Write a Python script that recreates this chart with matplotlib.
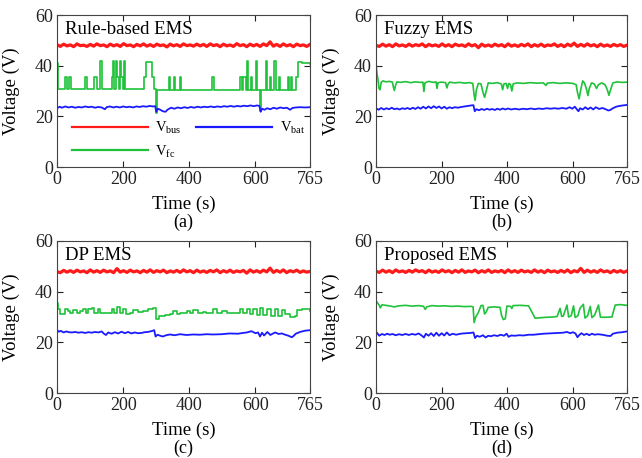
import numpy as np
import matplotlib
matplotlib.use('Agg')
import matplotlib.pyplot as plt

plt.rcParams['font.family'] = 'Liberation Serif'
plt.rcParams['mathtext.fontset'] = 'custom'
plt.rcParams['mathtext.rm'] = 'Liberation Serif'

# -------------------------------
# Data
# -------------------------------

titles = ['Rule-based EMS', 'Fuzzy EMS', 'DP EMS', 'Proposed EMS']
tags = ['(a)', '(b)', '(c)', '(d)']
xticks = [0, 200, 400, 600, 765]
yticks = [0, 20, 40, 60]

# bus voltage, evenly sampled over 0..765 s
bus_a = [48.3, 47.6, 48.5, 47.8, 48.2, 47.5, 48.6, 47.9, 48.1, 47.6, 48.4, 47.7, 48.6, 47.9,
         48.2, 47.5, 48.5, 47.8, 48.3, 47.6, 48.7, 47.9, 48.2, 47.5, 48.4, 47.8, 48.6, 47.7,
         48.3, 47.6, 48.5, 47.9, 48.2, 47.4, 48.5, 47.8, 48.3, 47.6, 48.6, 47.9, 48.2, 47.7,
         48.5, 47.8, 48.4, 47.6, 48.6, 47.9, 48.3, 47.5, 48.5, 47.8, 48.2, 47.6, 48.7, 47.9,
         48.3, 47.5, 48.5, 47.8, 48.4, 47.6, 48.6, 47.9, 49.4, 47.7, 48.4, 47.6, 48.6, 47.8,
         48.3, 47.5, 48.5, 47.9, 48.2, 47.6, 48.4]
bus_b = [48.0, 47.6, 48.5, 47.7, 48.3, 47.5, 48.6, 47.8, 48.2, 47.6, 48.5, 47.7, 48.3, 47.9,
         48.6, 47.5, 48.4, 47.8, 48.2, 47.6, 48.6, 47.7, 48.3, 47.5, 48.5, 47.9, 48.2, 47.6,
         48.6, 47.8, 48.3, 47.1, 48.5, 47.7, 48.2, 47.6, 48.5, 47.8, 48.3, 47.5, 48.6, 47.7,
         48.2, 47.6, 48.4, 47.8, 48.6, 47.5, 48.3, 47.7, 48.5, 47.6, 48.2, 47.9, 48.6, 47.6,
         48.3, 47.5, 48.5, 47.8, 48.9, 47.6, 48.4, 47.7, 48.6, 47.8, 48.3, 47.5, 48.5, 47.7,
         48.2, 47.6, 48.4, 47.8, 48.3, 47.6, 48.1]
bus_c = [47.9, 47.5, 48.4, 47.7, 48.3, 47.6, 48.5, 47.8, 48.2, 47.5, 48.6, 47.7, 48.3, 47.6,
         48.5, 47.8, 48.2, 47.5, 49.1, 47.7, 48.3, 47.6, 48.5, 47.8, 48.2, 47.5, 48.4, 47.7,
         48.6, 47.6, 48.3, 47.8, 48.5, 47.5, 48.2, 47.7, 48.4, 47.6, 48.6, 47.8, 48.3, 47.5,
         48.5, 47.7, 48.2, 47.6, 48.4, 47.8, 48.6, 47.5, 48.3, 47.7, 48.5, 47.6, 48.2, 47.8,
         48.4, 47.3, 48.6, 47.7, 48.3, 47.6, 48.5, 47.8, 49.3, 47.6, 48.4, 47.7, 48.6, 47.5,
         48.3, 47.8, 48.5, 47.6, 48.2, 47.7, 48.0]
bus_d = [48.1, 47.6, 48.5, 47.7, 48.3, 47.5, 48.6, 47.8, 48.2, 47.6, 48.4, 47.7, 48.6, 47.9,
         48.3, 47.5, 48.5, 47.7, 48.2, 47.6, 48.6, 47.8, 48.3, 47.5, 48.4, 47.7, 48.6, 47.6,
         48.2, 47.8, 48.5, 47.5, 48.3, 47.7, 48.6, 47.6, 48.2, 47.8, 48.4, 47.5, 48.6, 47.7,
         48.3, 47.6, 48.5, 47.8, 48.2, 47.6, 48.6, 47.7, 48.3, 47.5, 48.5, 47.8, 48.2, 47.6,
         48.4, 47.7, 48.6, 47.5, 48.3, 47.8, 49.2, 47.6, 48.5, 47.7, 48.3, 47.6, 48.6, 47.8,
         48.2, 47.5, 48.4, 47.7, 48.3, 47.6, 48.2]

# fuel cell voltage, rule-based EMS (switching levels)
fc_a_t = [0, 4, 25, 29, 37, 42, 86, 90, 112, 120, 131, 136, 165, 168, 172, 178, 181, 186,
          191, 194, 199, 203, 207, 262, 268, 288, 294, 298, 302, 338, 341, 355, 358, 372,
          375, 470, 476, 552, 560, 563, 570, 576, 579, 586, 590, 601, 605, 615, 618, 631,
          635, 643, 648, 657, 661, 670, 674, 698, 702, 708, 712, 722, 729, 740, 765]
fc_a_v = [41.0, 30.6, 35.5, 30.6, 35.5, 30.6, 35.5, 30.6, 35.5, 30.6, 41.8, 30.6, 35.5, 41.8,
          30.6, 41.8, 35.5, 30.6, 41.8, 35.5, 30.6, 41.8, 30.6, 35.5, 41.5, 35.5, 30.6, 21.5,
          30.2, 35.5, 30.2, 35.5, 30.2, 35.5, 30.2, 35.5, 30.2, 35.5, 30.2, 35.5, 30.2, 41.8,
          30.2, 35.5, 30.2, 41.8, 30.2, 22.0, 30.2, 41.8, 30.2, 35.5, 30.2, 41.8, 30.2, 35.5,
          30.2, 35.5, 30.2, 35.5, 30.2, 35.5, 41.5, 41.0, 40.5]

bat_a_t = [0, 8, 15, 25, 35, 45, 55, 65, 75, 85, 95, 105, 115, 125, 135, 145, 150, 160, 170,
           180, 190, 200, 210, 220, 230, 240, 250, 260, 270, 280, 290, 297, 300, 305, 312,
           320, 328, 335, 345, 355, 365, 375, 385, 395, 405, 415, 425, 435, 445, 455, 465,
           475, 485, 495, 505, 515, 525, 535, 545, 555, 565, 575, 585, 595, 605, 612, 616,
           620, 628, 635, 645, 655, 665, 675, 685, 695, 705, 712, 722, 735, 750, 765]
bat_a_v = [23.2, 23.8, 23.4, 23.9, 23.5, 23.8, 23.4, 23.7, 23.5, 23.9, 23.6, 23.8, 23.4, 23.7,
           23.5, 22.8, 23.6, 23.9, 23.5, 23.8, 23.5, 23.9, 23.6, 23.8, 23.5, 23.9, 23.7, 24.0,
           23.8, 24.1, 23.9, 24.0, 21.8, 23.0, 22.6, 22.0, 21.8, 22.7, 23.4, 23.0, 23.5, 23.2,
           23.6, 23.3, 23.7, 23.4, 23.8, 23.5, 23.8, 23.6, 23.9, 23.6, 23.9, 23.7, 24.0, 23.8,
           24.1, 23.8, 24.1, 23.9, 24.2, 24.0, 24.3, 24.0, 24.3, 24.1, 21.8, 23.0, 22.6, 23.2,
           22.8, 23.4, 23.0, 23.5, 23.2, 23.4, 22.6, 23.3, 23.5, 23.6, 23.5, 23.6]

# fuzzy EMS
fc_b_t = [0, 3, 6, 9, 12, 16, 22, 30, 40, 50, 53, 56, 60, 64, 75, 90, 105, 120, 135, 143, 146,
          149, 160, 175, 183, 186, 189, 200, 212, 216, 219, 224, 240, 255, 270, 285, 295, 299,
          302, 306, 312, 320, 326, 331, 336, 342, 355, 370, 382, 386, 390, 397, 401, 405, 410,
          414, 418, 430, 450, 470, 490, 510, 518, 522, 540, 560, 580, 600, 610, 614, 619, 624,
          630, 636, 642, 646, 650, 657, 665, 672, 678, 688, 698, 705, 710, 715, 722, 735, 750,
          765]
fc_b_v = [41.0, 37.0, 34.5, 31.0, 30.5, 33.5, 34.0, 33.6, 33.8, 33.5, 31.5, 30.2, 32.5, 33.6,
          33.4, 33.7, 33.3, 33.6, 33.4, 33.5, 29.8, 33.2, 33.8, 33.4, 33.6, 31.0, 33.3, 33.5,
          33.3, 31.2, 32.5, 33.5, 33.2, 33.4, 33.1, 33.3, 33.0, 28.5, 26.3, 30.5, 33.0, 32.8,
          29.5, 27.5, 30.0, 33.2, 33.0, 33.3, 32.8, 30.5, 32.8, 33.0, 31.0, 33.0, 32.5, 30.0,
          32.8, 33.2, 33.0, 33.3, 33.1, 33.2, 32.2, 33.1, 33.3, 33.0, 33.2, 33.0, 32.5, 29.5,
          26.9, 30.5, 34.0, 33.0, 30.5, 28.2, 31.0, 33.2, 32.8, 31.0, 32.5, 33.2, 32.5, 30.5,
          28.3, 30.5, 33.2, 33.6, 33.4, 33.5]

bat_b_t = [0, 8, 16, 24, 32, 40, 48, 56, 64, 72, 80, 88, 96, 104, 112, 120, 128, 136, 144, 152,
           160, 168, 176, 184, 192, 200, 208, 216, 224, 232, 240, 250, 260, 270, 280, 290, 297,
           301, 306, 314, 322, 330, 338, 346, 354, 362, 370, 378, 386, 394, 402, 412, 424, 436,
           448, 460, 472, 484, 496, 508, 520, 532, 544, 556, 568, 580, 590, 598, 606, 612, 617,
           622, 630, 638, 646, 654, 662, 670, 680, 690, 700, 708, 714, 722, 732, 742, 752, 765]
bat_b_v = [23.2, 22.6, 23.3, 22.7, 23.2, 22.8, 23.4, 22.8, 23.1, 22.7, 23.2, 22.9, 23.3, 22.8,
           23.4, 22.9, 23.6, 23.0, 23.8, 23.1, 23.9, 23.2, 24.0, 23.3, 23.9, 23.1, 23.8, 23.0,
           23.6, 23.2, 23.6, 23.4, 23.7, 23.9, 24.1, 24.3, 24.4, 22.0, 22.8, 22.4, 22.9, 22.5,
           23.0, 22.6, 22.9, 22.5, 23.0, 22.6, 23.1, 22.7, 23.1, 22.7, 23.0, 22.7, 23.0, 22.8,
           23.1, 22.8, 23.1, 22.9, 23.2, 23.0, 23.2, 23.0, 23.3, 23.0, 23.6, 23.0, 23.8, 22.8,
           22.0, 23.2, 22.7, 23.6, 22.8, 23.5, 22.7, 23.6, 22.9, 23.3, 22.8, 22.3, 22.5, 23.2,
           23.8, 24.1, 24.3, 24.5]

# DP EMS
fc_c_t = [0, 4, 9, 24, 32, 39, 49, 60, 70, 80, 87, 95, 105, 113, 123, 130, 145, 165, 173, 180,
          191, 201, 209, 221, 231, 246, 261, 276, 291, 296, 298, 307, 327, 342, 352, 362, 372,
          392, 402, 412, 427, 442, 452, 473, 483, 498, 513, 538, 553, 563, 574, 584, 594, 604,
          614, 624, 636, 646, 659, 669, 679, 689, 705, 720, 725, 740, 765]
fc_c_v = [35.5, 33.0, 31.0, 33.2, 32.3, 31.7, 32.7, 31.4, 32.3, 33.2, 31.7, 33.0, 33.5, 31.7,
          33.2, 31.4, 31.7, 33.2, 31.7, 34.0, 31.7, 33.0, 31.0, 31.7, 32.7, 31.9, 32.3, 33.2,
          33.6, 33.4, 29.1, 30.4, 30.6, 31.0, 32.3, 31.0, 31.7, 32.3, 31.7, 32.7, 31.4, 31.9,
          31.7, 33.0, 31.7, 32.3, 31.4, 31.7, 33.0, 31.4, 33.2, 31.0, 33.2, 30.6, 33.6, 30.6,
          33.2, 30.4, 33.0, 30.4, 32.7, 31.0, 30.1, 30.4, 32.7, 33.2, 32.3]

bat_c_t = [0, 5, 12, 20, 28, 36, 45, 55, 65, 75, 85, 95, 105, 115, 125, 135, 142, 148, 155,
           165, 175, 185, 195, 205, 215, 225, 235, 245, 255, 265, 275, 285, 294, 298, 304, 312,
           320, 330, 342, 355, 372, 392, 412, 432, 452, 472, 497, 522, 547, 562, 574, 588, 600,
           608, 614, 620, 626, 636, 645, 652, 660, 670, 680, 690, 700, 710, 716, 722, 735, 750,
           765]
bat_c_v = [25.0, 24.2, 24.5, 23.9, 24.3, 24.0, 23.9, 24.1, 23.8, 24.0, 23.7, 24.0, 23.8, 24.1,
           23.9, 24.3, 23.4, 22.9, 23.9, 23.4, 24.0, 23.5, 24.2, 23.6, 24.1, 23.5, 23.9, 23.6,
           23.7, 24.0, 24.1, 24.4, 24.8, 22.3, 23.0, 22.6, 22.3, 22.8, 23.1, 22.8, 23.2, 22.9,
           23.1, 23.0, 23.2, 23.1, 23.2, 23.5, 23.4, 23.7, 23.9, 24.4, 23.6, 23.9, 22.3, 23.8,
           22.7, 24.1, 22.9, 23.4, 23.9, 23.3, 23.5, 23.0, 22.6, 22.0, 22.6, 23.4, 24.1, 24.6,
           24.8]

# proposed EMS
fc_d_t = [0, 5, 10, 13, 18, 30, 45, 55, 70, 90, 110, 130, 145, 150, 155, 170, 190, 210, 230,
          250, 270, 290, 296, 299, 304, 312, 320, 326, 331, 336, 342, 360, 378, 383, 388, 394,
          399, 410, 414, 418, 440, 465, 475, 485, 500, 520, 540, 552, 561, 566, 571, 582, 587,
          595, 602, 607, 615, 622, 632, 637, 645, 653, 658, 666, 678, 684, 700, 719, 729, 745,
          765]
fc_d_v = [36.4, 35.5, 34.6, 33.6, 34.8, 34.6, 34.3, 34.0, 34.4, 34.6, 34.3, 34.5, 34.2, 33.0,
          34.0, 34.5, 34.3, 34.4, 34.2, 34.3, 34.1, 34.2, 34.0, 27.8, 30.0, 31.8, 34.5, 34.6,
          31.2, 32.0, 33.8, 34.0, 33.8, 30.5, 29.0, 29.3, 34.3, 34.2, 33.4, 34.5, 34.6, 34.4,
          32.0, 29.5, 29.7, 29.9, 30.0, 30.2, 33.4, 30.2, 30.4, 34.7, 30.0, 30.5, 34.4, 29.8,
          30.5, 33.5, 35.0, 29.6, 30.5, 34.2, 29.8, 30.6, 34.7, 29.9, 29.9, 30.0, 34.7, 34.9,
          34.6]

bat_d_t = [0, 5, 10, 18, 26, 34, 42, 50, 60, 70, 80, 90, 100, 110, 120, 130, 140, 146, 152,
           160, 168, 176, 184, 192, 200, 208, 216, 224, 234, 244, 254, 264, 276, 288, 297, 302,
           308, 316, 326, 334, 342, 350, 360, 370, 380, 390, 398, 404, 412, 424, 436, 450, 465,
           480, 495, 510, 525, 540, 555, 570, 582, 592, 600, 608, 614, 619, 626, 634, 642, 650,
           658, 666, 676, 690, 705, 715, 722, 735, 750, 765]
bat_d_v = [24.2, 23.4, 22.6, 23.3, 22.9, 23.4, 23.0, 23.3, 22.8, 23.2, 22.9, 23.3, 22.9, 23.3,
           23.0, 23.5, 22.6, 21.9, 23.4, 22.6, 23.6, 22.5, 23.8, 22.6, 23.6, 22.7, 23.9, 22.8,
           23.4, 23.0, 23.3, 23.5, 23.6, 23.7, 23.9, 21.7, 22.6, 22.2, 22.8, 21.9, 22.6, 22.4,
           22.8, 22.5, 23.0, 22.6, 23.4, 22.2, 22.7, 22.6, 22.8, 22.7, 23.0, 23.0, 23.2, 23.4,
           23.5, 23.6, 23.7, 23.8, 24.1, 23.6, 24.0, 23.5, 22.0, 22.8, 23.6, 22.9, 23.4, 22.8,
           23.4, 23.0, 23.2, 23.0, 22.6, 22.5, 23.4, 23.8, 24.0, 24.3]

# -------------------------------
# Figure
# -------------------------------

red = '#ff1a1a'
green = '#1fc23a'
blue = '#1a1aff'

fig = plt.figure(figsize=(6.42, 4.58), dpi=100)

# axes boxes in pixels: left, right, top, bottom
boxes = [(57, 310, 15, 167), (376, 627, 15, 167),
         (57, 310, 241, 393), (376, 627, 241, 393)]

panels = [
    (bus_a, fc_a_t, fc_a_v, bat_a_t, bat_a_v, 'steps-post'),
    (bus_b, fc_b_t, fc_b_v, bat_b_t, bat_b_v, 'default'),
    (bus_c, fc_c_t, fc_c_v, bat_c_t, bat_c_v, 'steps-post'),
    (bus_d, fc_d_t, fc_d_v, bat_d_t, bat_d_v, 'default'),
]

W, H = 642, 458
for i, (box, p) in enumerate(zip(boxes, panels)):
    l, r, t, b = box
    ax = fig.add_axes([l / W, 1 - b / H, (r - l) / W, (b - t) / H])
    bus, fct, fcv, batt, batv, ds = p

    ax.plot(np.linspace(0, 765, len(bus)), bus, color=red, lw=2.3, label=r'V$_{\rm bus}$')
    ax.plot(fct, fcv, color=green, lw=1.2, drawstyle=ds, label=r'V$_{\rm fc}$')
    ax.plot(batt, batv, color=blue, lw=1.3, label=r'V$_{\rm bat}$')

    ax.set_xlim(0, 765)
    ax.set_ylim(0, 60)
    ax.set_xticks(xticks)
    ax.set_yticks(yticks)
    ax.tick_params(direction='in', top=True, right=True, length=4,
                   labelsize=13, colors='#222222', pad=3)
    for s in ax.spines.values():
        s.set_color('#444444')
        s.set_linewidth(0.8)

    ax.set_ylabel('Voltage (V)', fontsize=13.5)
    ax.yaxis.set_label_coords(-0.145, 0.5)
    ax.text(0.5, -0.245, 'Time (s)', transform=ax.transAxes, ha='center', va='center', fontsize=13.5)
    ax.text(0.5, -0.365, tags[i], transform=ax.transAxes, ha='center', va='center', fontsize=13)
    ax.text(0.032, 0.905, titles[i], transform=ax.transAxes, ha='left', va='center', fontsize=13.5)

    if i == 0:
        leg = ax.legend(ncol=2, loc='center left', bbox_to_anchor=(0.06, 0.18), frameon=False,
                        fontsize=10.5, handlelength=5.2, handletextpad=0.5, columnspacing=1.0,
                        labelspacing=0.45, borderpad=0, borderaxespad=0)
        for h in leg.legend_handles:
            h.set_linewidth(1.6)

fig.savefig('out.png', dpi=100)
